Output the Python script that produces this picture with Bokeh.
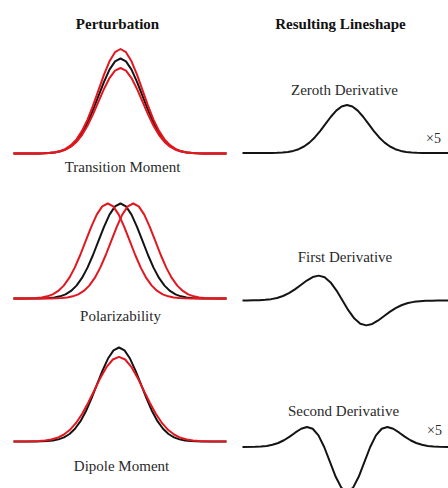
import numpy as np
from bokeh.plotting import figure
from bokeh.models import Range1d, ColumnDataSource
from bokeh.core.properties import value
from bokeh.embed import file_html
from bokeh.resources import INLINE

# ---------------- data ----------------
# sample positions along each band, in units of the band width (sigma)
offsets = [-4.0, -3.75, -3.5, -3.25, -3.0, -2.75, -2.5, -2.25, -2.0, -1.75,
           -1.5, -1.25, -1.0, -0.75, -0.5, -0.25, 0.0, 0.25, 0.5, 0.75,
           1.0, 1.25, 1.5, 1.75, 2.0, 2.25, 2.5, 2.75, 3.0, 3.25,
           3.5, 3.75, 4.0]
# normalised band profile (peak = 1)
band_profile = [0.0003, 0.0009, 0.0022, 0.0051, 0.0111, 0.0228, 0.0439, 0.0796,
                0.1353, 0.2163, 0.3247, 0.4578, 0.6065, 0.7548, 0.8825, 0.9692,
                1.0,
                0.9692, 0.8825, 0.7548, 0.6065, 0.4578, 0.3247, 0.2163, 0.1353,
                0.0796, 0.0439, 0.0228, 0.0111, 0.0051, 0.0022, 0.0009, 0.0003]
# first-derivative lineshape
first_deriv_profile = [0.0013, 0.0033, 0.0077, 0.0165, 0.0333, 0.0627, 0.1098, 0.1791,
                       0.2707, 0.3785, 0.4870, 0.5723, 0.6065, 0.5661, 0.4412, 0.2423,
                       0.0,
                       -0.2423, -0.4412, -0.5661, -0.6065, -0.5723, -0.4870, -0.3785,
                       -0.2707, -0.1791, -0.1098, -0.0627, -0.0333, -0.0165, -0.0077,
                       -0.0033, -0.0013]
# second-derivative lineshape
second_deriv_profile = [0.0050, 0.0115, 0.0246, 0.0486, 0.0889, 0.1496, 0.2305, 0.3234,
                        0.4060, 0.4461, 0.4059, 0.2575, 0.0, -0.3302, -0.6619, -0.9086,
                        -1.0,
                        -0.9086, -0.6619, -0.3302, 0.0, 0.2575, 0.4059, 0.4461, 0.4060,
                        0.3234, 0.2305, 0.1496, 0.0889, 0.0486, 0.0246, 0.0115, 0.0050]

column_titles = ["Perturbation", "Resulting Lineshape"]
perturbation_labels = ["Transition Moment", "Polarizability", "Dipole Moment"]
lineshape_labels = ["Zeroth Derivative", "First Derivative", "Second Derivative"]
scale_labels = ["\u00d75", "\u00d75"]

# relative peak heights: perturbed (up), unperturbed, perturbed (down)
transition_heights = [1.10, 1.00, 0.90]
# band centre shifts (in sigma): perturbed left, unperturbed, perturbed right
polarizability_shifts = [-0.58, 0.0, 0.58]
# unperturbed vs broadened band: width and height factors
dipole_widths = [1.0, 1.12]
dipole_heights = [1.0, 0.90]

# ---------------- layout / style ----------------
W, H = 448, 488
BLACK = "#141414"
RED = "#e3171f"
FONT = value("Liberation Serif")

p = figure(width=W, height=H, x_range=Range1d(0, W), y_range=Range1d(H, 0),
           output_backend="svg", toolbar_location=None, min_border=0,
           x_axis_type=None, y_axis_type=None)
p.grid.visible = False
p.outline_line_color = None
p.background_fill_color = "white"
p.border_fill_color = "white"

offs = np.array(offsets)


def draw(profile, cx, base, sigma, amp, color, xmin, xmax,
         shift=0.0, width=1.0, height=1.0):
    x = cx + (offs * width + shift) * sigma
    y = base - np.array(profile) * height * amp
    x = np.concatenate([[xmin], x, [xmax]])
    y = np.concatenate([[base], y, [base]])
    p.line(x, y, line_color=color, line_width=2, line_join="round")


L0, L1 = 13, 226
R0, R1 = 242, 452
SL = 22  # left band width (px per sigma)

# Left column: perturbations
# Transition moment
draw(band_profile, 120, 153, SL, 95, BLACK, L0, L1, height=transition_heights[1])
draw(band_profile, 120, 153, SL, 95, RED, L0, L1, height=transition_heights[0])
draw(band_profile, 120, 153, SL, 95, RED, L0, L1, height=transition_heights[2])
# Polarizability
draw(band_profile, 120, 298, SL, 95, BLACK, L0, L1, shift=polarizability_shifts[1])
draw(band_profile, 120, 298, SL, 95, RED, L0, L1, shift=polarizability_shifts[0])
draw(band_profile, 120, 298, SL, 95, RED, L0, L1, shift=polarizability_shifts[2])
# Dipole moment
draw(band_profile, 118.5, 441, SL, 94, BLACK, L0, L1,
     width=dipole_widths[0], height=dipole_heights[0])
draw(band_profile, 118.5, 441, SL, 94, RED, L0, L1,
     width=dipole_widths[1], height=dipole_heights[1])

# Right column: resulting lineshapes
draw(band_profile, 346.5, 152.5, 21.5, 48, BLACK, R0, R1)
draw(first_deriv_profile, 342, 300, 23.8, 41, BLACK, R0, R1)
draw(second_deriv_profile, 346.7, 446.5, 23, 45, BLACK, R0, R1)

# Texts
titles = ColumnDataSource(dict(x=[117, 340], y=[23, 23], text=column_titles))
p.text("x", "y", "text", source=titles, text_font=FONT, text_font_style="bold",
       text_font_size="15px", text_align="center", text_baseline="middle",
       text_color="#111111")

left_lbl = ColumnDataSource(dict(x=[122, 120, 121], y=[166, 315, 465],
                                 text=perturbation_labels))
p.text("x", "y", "text", source=left_lbl, text_font=FONT, text_font_size="15px",
       text_align="center", text_baseline="middle", text_color="#2a2a2a")

right_lbl = ColumnDataSource(dict(x=[344, 344.5, 343], y=[89.5, 256, 410],
                                  text=lineshape_labels))
p.text("x", "y", "text", source=right_lbl, text_font=FONT, text_font_size="15px",
       text_align="center", text_baseline="middle", text_color="#2a2a2a")

scale_src = ColumnDataSource(dict(x=[433, 434], y=[138, 430], text=scale_labels))
p.text("x", "y", "text", source=scale_src, text_font=FONT, text_font_size="14px",
       text_align="center", text_baseline="middle", text_color="#2a2a2a")

open("out.html", "w").write(file_html(p, INLINE))
